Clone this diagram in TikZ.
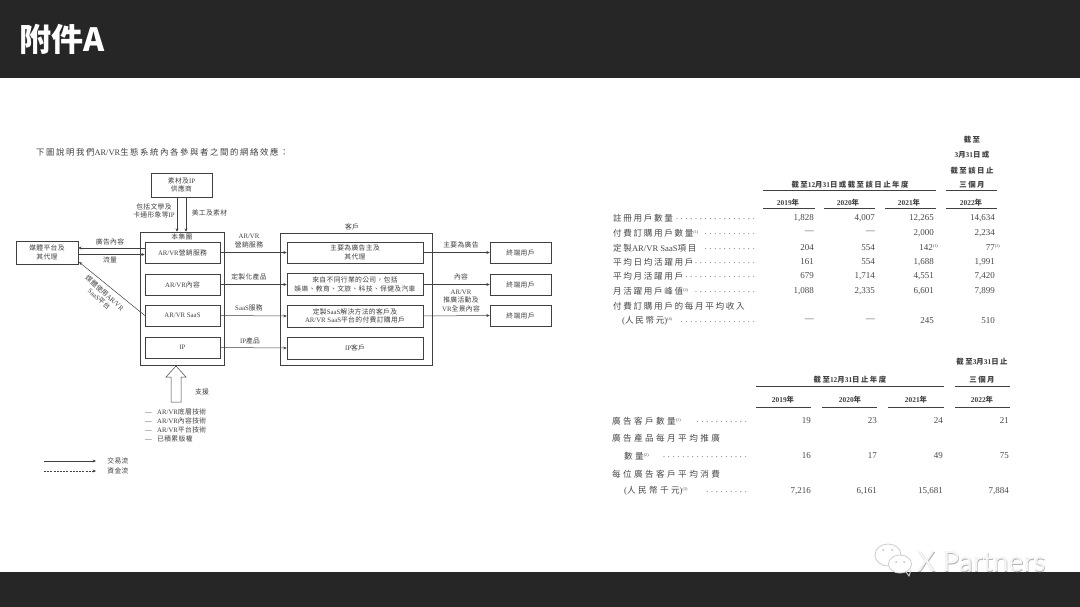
\documentclass[tikz,border=0pt]{standalone}
\usepackage{fontspec}
\usetikzlibrary{arrows.meta}
\setmainfont{Liberation Serif}
\newfontfamily\cjkD[LetterSpace=5]{Noto Sans CJK TC}
\newfontfamily\cjkT[LetterSpace=19]{Noto Sans CJK TC}
\newfontfamily\cjkU[LetterSpace=28]{Noto Sans CJK TC}
\newfontfamily\cjkB[LetterSpace=20]{Noto Sans CJK TC}
\newfontfamily\cjkTitle{Noto Sans CJK TC}
\newfontfamily\dotfam[LetterSpace=35]{Liberation Serif}
\newfontfamily\markfam{Lato}
\newcommand{\zd}[1]{{\cjkD #1}}
\newcommand{\zt}[1]{{\cjkT #1}}
\newcommand{\zu}[1]{{\cjkU #1}}
\newcommand{\zb}[1]{{\cjkB\bfseries #1}}
\newcommand{\nsup}[1]{\raisebox{3pt}{\fontsize{4.2}{4.2}\selectfont(#1)}}
\newcommand{\dotrun}[1]{{\dotfam #1}}
\newcommand{\lead}{\makebox[12pt][l]{---}}
\definecolor{band}{HTML}{262626}
\definecolor{ink}{HTML}{404040}
\definecolor{tink}{HTML}{484848}
\tikzset{
  box/.style={draw=ink,line width=0.5pt,inner sep=0pt,align=center,text=ink,font=\fontsize{6.8}{8.2}\selectfont},
  lbl/.style={inner sep=0pt,align=center,text=ink,font=\fontsize{6.8}{8.2}\selectfont},
  flow/.style={draw=ink,line width=0.5pt,-{Stealth[length=3.4pt,width=3pt]}},
  lab/.style={anchor=west,inner sep=0pt,text=tink,font=\fontsize{8.6}{10}\selectfont},
  num/.style={anchor=east,inner sep=0pt,text=tink,font=\fontsize{9}{10}\selectfont},
  dotr/.style={anchor=east,inner sep=0pt,text=tink,font=\fontsize{8}{10}\selectfont},
  head/.style={inner sep=0pt,text=ink,font=\fontsize{7.4}{8}\selectfont\bfseries},
  rule/.style={draw=ink,line width=0.7pt},
}
\begin{document}
\begin{tikzpicture}[x=1pt,y=-1pt]
\useasboundingbox (0,0) rectangle (1080,607);
\fill[white] (0,0) rectangle (1080,607);
\fill[band] (0,0) rectangle (1080,78);
\fill[band] (0,572) rectangle (1080,607);
\node[anchor=west,inner sep=0pt,text=white,font=\fontsize{32}{34}\selectfont\bfseries] (title) at (19,39) {\cjkTitle 附件A};

% intro
\node[anchor=west,inner sep=0pt,text=ink,font=\fontsize{8.4}{9}\selectfont] (intro) at (36,152) {{\cjkT 下圖說明我們}AR/VR{\cjkT 生態系統內各參與者之間的網絡效應：}};

% diagram: boxes
\node[box,minimum width=61pt,minimum height=24pt] (sup) at (181.5,185) {\zd{素材及}IP\\\zd{供應商}};
\node[box,minimum width=62pt,minimum height=23pt] (media) at (47,252.5) {\zd{媒體平台及}\\\zd{其代理}};
\node[box,minimum width=84pt,minimum height=133pt] (grp) at (182,298.5) {};
\node[box,minimum width=75pt,minimum height=21pt] (g1) at (182.5,252.5) {AR/VR\zd{營銷服務}};
\node[box,minimum width=75pt,minimum height=21pt] (g2) at (182.5,284.5) {AR/VR\zd{內容}};
\node[box,minimum width=75pt,minimum height=21pt] (g3) at (182.5,315.5) {AR/VR SaaS};
\node[box,minimum width=75pt,minimum height=21pt] (g4) at (182.5,347.5) {IP};
\node[box,minimum width=152pt,minimum height=132pt] (cust) at (356,299) {};
\node[box,minimum width=136pt,minimum height=21.5pt] (c1) at (355,252.5) {\zd{主要為廣告主及}\\\zd{其代理}};
\node[box,minimum width=136pt,minimum height=22pt] (c2) at (355,284.5) {\zd{來自不同行業的公司，包括}\\\zd{娛樂、教育、文旅、科技、保健及汽車}};
\node[box,minimum width=136pt,minimum height=22pt] (c3) at (355,316) {\zd{定製}SaaS\zd{解決方法的客戶及}\\AR/VR SaaS\zd{平台的付費訂購用戶}};
\node[box,minimum width=136pt,minimum height=22pt] (c4) at (355,348) {IP\zd{客戶}};
\node[box,minimum width=61pt,minimum height=21pt] (e1) at (520.5,252.5) {\zd{終端用戶}};
\node[box,minimum width=61pt,minimum height=21pt] (e2) at (520.5,284.5) {\zd{終端用戶}};
\node[box,minimum width=61pt,minimum height=21pt] (e3) at (520.5,315.5) {\zd{終端用戶}};

% diagram: connectors
\draw[flow] ([xshift=-4.5pt]sup.south) -- ([xshift=-4.5pt]sup.south |- grp.north);
\draw[flow] ([xshift=4.5pt]sup.south) -- ([xshift=4.5pt]sup.south |- grp.north);
\draw[flow] ([yshift=4.5pt]g1.west) -- ([yshift=4.5pt]g1.west -| media.east);
\draw[flow] ([yshift=-2pt]media.east) -- ([yshift=-2pt]media.east -| g1.west);
\draw[flow] (g1.east) -- (c1.west);
\draw[flow] (g2.east) -- (c2.west);
\draw[flow] (g3.east) -- (c3.west);
\draw[flow] (g4.east) -- (c4.west);
\draw[flow] (c1.east) -- (e1.west);
\draw[flow] (c2.east) -- (e2.west);
\draw[flow] (c3.east) -- (e3.west);
\coordinate (diagB) at (79,262);
\draw[flow] (g3.west) -- (diagB);

% hollow support arrow
\draw[draw=ink,line width=0.5pt,fill=white] (176,366) -- (186,377) -- (181,377) -- (181,402) -- (171,402) -- (171,377) -- (166,377) -- cycle;

% diagram: labels
\node[lbl] (l1) at (154,211) {\zd{包括文學及}\\\zd{卡通形象等}IP};
\node[lbl] (l2) at (209.5,213) {\zd{美工及素材}};
\node[lbl] (l3) at (182,237) {\zd{本集團}};
\node[lbl] (l4) at (110,242) {\zd{廣告內容}};
\node[lbl] (l5) at (110,260) {\zd{流量}};
\node[lbl] (l6) at (249,241) {AR/VR\\\zd{營銷服務}};
\node[lbl] (l7) at (249,277) {\zd{定製化產品}};
\node[lbl] (l8) at (249,308) {SaaS\zd{服務}};
\node[lbl] (l9) at (250,341) {IP\zd{產品}};
\node[lbl] (l10) at (352,227) {\zd{客戶}};
\node[lbl] (l11) at (461,245) {\zd{主要為廣告}};
\node[lbl] (l12) at (461,277) {\zd{內容}};
\node[lbl] (l13) at (461,301) {AR/VR\\\zd{推廣活動及}\\VR\zd{全景內容}};
\node[lbl,rotate=-42] (l14) at (102,296) {\zd{媒體使用}AR/VR\\SaaS\zd{平台}};
\node[lbl] (l15) at (202,392) {\zd{支援}};
\node[lbl,anchor=west] (s1) at (145,412) {\lead AR/VR\zd{底層技術}};
\node[lbl,anchor=west] (s2) at (145,421) {\lead AR/VR\zd{內容技術}};
\node[lbl,anchor=west] (s3) at (145,430) {\lead AR/VR\zd{平台技術}};
\node[lbl,anchor=west] (s4) at (145,438.5) {\lead \zd{已積累版權}};
\coordinate (k1a) at (44,461); \coordinate (k1b) at (96,461);
\coordinate (k2a) at (44,471); \coordinate (k2b) at (96,471);
\draw[flow] (k1a) -- (k1b);
\draw[flow,dash pattern=on 2pt off 1.2pt] (k2a) -- (k2b);
\node[lbl] (k1) at (118,460.5) {\zd{交易流}};
\node[lbl] (k2) at (118,470.5) {\zd{資金流}};

% table 1 header
\node[head] (h1) at (972,140) {\zb{截至}};
\node[head] (h2) at (972,155) {3\zb{月}31\zb{日或}};
\node[head] (h3) at (972,171) {\zb{截至該日止}};
\node[head] (h4) at (972,185) {\zb{三個月}};
\node[head] (h5) at (850,185) {\zb{截至}12\zb{月}31\zb{日或截至該日止年度}};
\draw[rule] (763,190.7) -- (936,190.7);
\draw[rule] (946,190.7) -- (997,190.7);
\node[head] (y1) at (788,203) {2019\zb{年}};
\node[head] (y2) at (848,203) {2020\zb{年}};
\node[head] (y3) at (909,203) {2021\zb{年}};
\node[head] (y4) at (971,203) {2022\zb{年}};
\draw[rule] (763,208) -- (815,208);
\draw[rule] (824,208) -- (875,208);
\draw[rule] (885,208) -- (936,208);
\draw[rule] (946,208) -- (997,208);

% table 1 rows
\node[lab] (a1) at (613,218) {\zt{註冊用戶數量}};
\node[dotr] (a1d) at (755,219) {\dotrun{.................}};
\node[num] (a1a) at (814,218) {1,828};
\node[num] (a1b) at (875,218) {4,007};
\node[num] (a1c) at (934,218) {12,265};
\node[num] (a1e) at (995,218) {14,634};
\node[lab] (a2) at (613,233) {\zt{付費訂購用戶數量}\nsup{1}};
\node[dotr] (a2d) at (755,234) {\dotrun{...........}};
\node[num] (a2a) at (814,232) {---};
\node[num] (a2b) at (875,232) {---};
\node[num] (a2c) at (934,233) {2,000};
\node[num] (a2e) at (995,233) {2,234};
\node[lab] (a3) at (613,248) {\zt{定製}AR/VR SaaS\zt{項目}};
\node[dotr] (a3d) at (755,249) {\dotrun{...........}};
\node[num] (a3a) at (814,248) {204};
\node[num] (a3b) at (875,248) {554};
\node[num] (a3c) at (938,248) {142\nsup{3}};
\node[num] (a3e) at (1000,248) {77\nsup{3}};
\node[lab] (a4) at (613,262) {\zt{平均日均活躍用戶}};
\node[dotr] (a4d) at (755,263) {\dotrun{.............}};
\node[num] (a4a) at (814,262) {161};
\node[num] (a4b) at (875,262) {554};
\node[num] (a4c) at (934,262) {1,688};
\node[num] (a4e) at (995,262) {1,991};
\node[lab] (a5) at (613,276) {\zt{平均月活躍用戶}};
\node[dotr] (a5d) at (755,277) {\dotrun{...............}};
\node[num] (a5a) at (814,276) {679};
\node[num] (a5b) at (875,276) {1,714};
\node[num] (a5c) at (934,276) {4,551};
\node[num] (a5e) at (995,276) {7,420};
\node[lab] (a6) at (613,291) {\zt{月活躍用戶峰值}\nsup{2}};
\node[dotr] (a6d) at (755,292) {\dotrun{.............}};
\node[num] (a6a) at (814,291) {1,088};
\node[num] (a6b) at (875,291) {2,335};
\node[num] (a6c) at (934,291) {6,601};
\node[num] (a6e) at (995,291) {7,899};
\node[lab] (a7) at (613,306) {\zt{付費訂購用戶的每月平均收入}};
\node[lab] (a8) at (622,321) {(\zt{人民幣元})\nsup{4}};
\node[dotr] (a8d) at (755,322) {\dotrun{................}};
\node[num] (a8a) at (814,320) {---};
\node[num] (a8b) at (875,320) {---};
\node[num] (a8c) at (934,321) {245};
\node[num] (a8e) at (995,321) {510};

% table 2 header
\node[head] (j1) at (982,362) {\zb{截至}3\zb{月}31\zb{日止}};
\node[head] (j2) at (850,380) {\zb{截至}12\zb{月}31\zb{日止年度}};
\node[head] (j3) at (982,380) {\zb{三個月}};
\draw[rule] (756,386) -- (944,386);
\draw[rule] (955,386) -- (1010,386);
\node[head] (z1) at (783,400) {2019\zb{年}};
\node[head] (z2) at (850,400) {2020\zb{年}};
\node[head] (z3) at (916,400) {2021\zb{年}};
\node[head] (z4) at (982,400) {2022\zb{年}};
\draw[rule] (756,407) -- (811,407);
\draw[rule] (822,407) -- (877,407);
\draw[rule] (888,407) -- (944,407);
\draw[rule] (955,407) -- (1010,407);

% table 2 rows
\node[lab] (b1) at (612,421) {\zu{廣告客戶數量}\nsup{1}};
\node[dotr] (b1d) at (747,422) {\dotrun{...........}};
\node[num] (b1a) at (811,421) {19};
\node[num] (b1b) at (877,421) {23};
\node[num] (b1c) at (943,421) {24};
\node[num] (b1e) at (1009,421) {21};
\node[lab] (b2) at (612,438) {\zu{廣告產品每月平均推廣}};
\node[lab] (b3) at (624,456) {\zu{數量}\nsup{2}};
\node[dotr] (b3d) at (747,457) {\dotrun{..................}};
\node[num] (b3a) at (811,456) {16};
\node[num] (b3b) at (877,456) {17};
\node[num] (b3c) at (943,456) {49};
\node[num] (b3e) at (1009,456) {75};
\node[lab] (b4) at (612,474) {\zu{每位廣告客戶平均消費}};
\node[lab] (b5) at (624,491) {(\zu{人民幣千元})\nsup{3}};
\node[dotr] (b5d) at (747,492) {\dotrun{.........}};
\node[num] (b5a) at (811,491) {7,216};
\node[num] (b5b) at (877,491) {6,161};
\node[num] (b5c) at (943,491) {15,681};
\node[num] (b5e) at (1009,491) {7,884};

% watermark
\begin{scope}[line width=0.9pt]
\draw[draw=black!18,fill=white] (888,555) ellipse (13pt and 11pt);
\draw[draw=black!18,fill=white] (900,564) ellipse (11.5pt and 9pt);
\draw[draw=black!18] (906,572) -- (909,576) -- (911,570);
\fill[black!25] (883,550) circle (1pt) (892,550) circle (1pt) (896,562) circle (1pt) (904,562) circle (1pt);
\end{scope}
\node[anchor=west,inner sep=0pt,text=black!30,font=\fontsize{28}{30}\selectfont] (wmS) at (917.6,562.6) {\markfam X Partners};
\node[anchor=west,inner sep=0pt,text=black!4,font=\fontsize{28}{30}\selectfont] (wm) at (917,562) {\markfam X Partners};
\end{tikzpicture}
\end{document}
